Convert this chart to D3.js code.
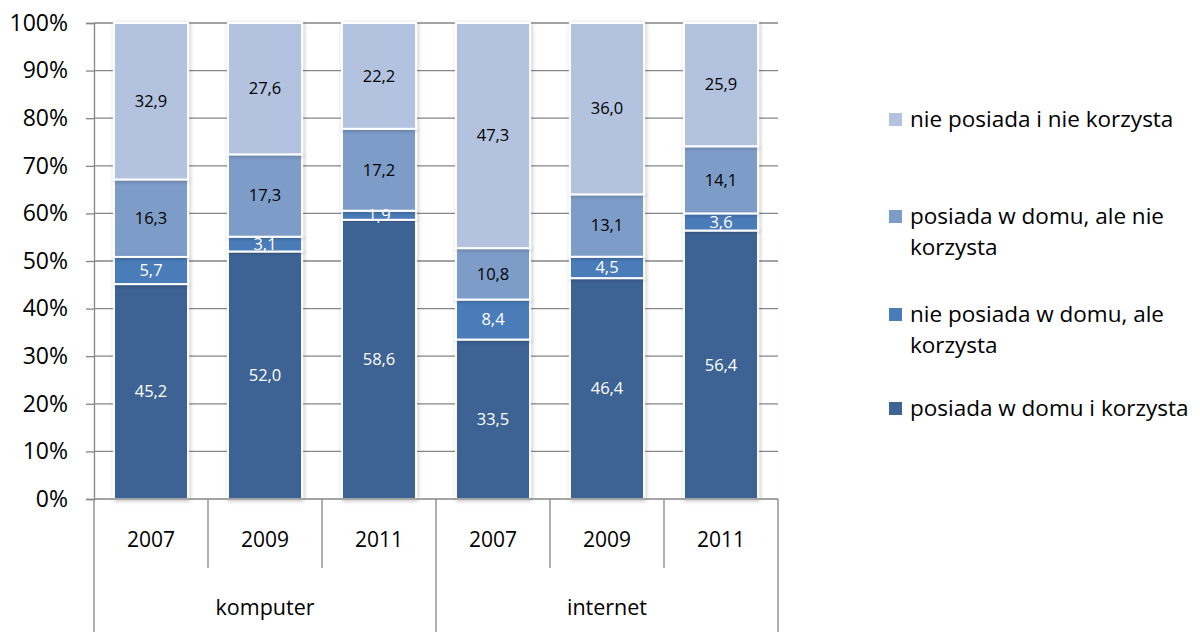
<!DOCTYPE html>
<html><head><meta charset="utf-8">
<script src="https://cdn.jsdelivr.net/npm/d3@7"></script>
<style>body{margin:0;background:#fff}svg{display:block}text{font-family:"Open Sans","Noto Sans",sans-serif}</style>
</head><body>
<svg id="c" width="1200" height="632"></svg>
<script>
const groups = ["komputer", "internet"];
const years = ["2007", "2009", "2011"];
const seriesNames = ["posiada w domu i korzysta", "nie posiada w domu, ale korzysta", "posiada w domu, ale nie korzysta", "nie posiada i nie korzysta"];
const s1 = [45.2, 52.0, 58.6, 33.5, 46.4, 56.4];
const s2 = [5.7, 3.1, 1.9, 8.4, 4.5, 3.6];
const s3 = [16.3, 17.3, 17.2, 10.8, 13.1, 14.1];
const s4 = [32.9, 27.6, 22.2, 47.3, 36.0, 25.9];
const colors = ["#3C6494", "#4A7CB9", "#7E9CC8", "#B3C3DF"];
const labelColors = ["#fff", "#fff", "#000", "#000"];
const yTicks = [0,10,20,30,40,50,60,70,80,90,100];
const legendLines = [["nie posiada i nie korzysta"], ["posiada w domu, ale nie", "korzysta"], ["nie posiada w domu, ale", "korzysta"], ["posiada w domu i korzysta"]];

const FONT = "'Open Sans', 'Noto Sans', sans-serif";
const svg = d3.select("#c");
const L = 94, R = 778, T = 23, B = 499;
const cats = [];
groups.forEach(g => years.forEach(y => cats.push(g + "|" + y)));
const x = d3.scaleBand().domain(cats).range([L, R]).paddingInner(0.35).paddingOuter(0.175);
const y = d3.scaleLinear().domain([0, 100]).range([B, T]);
const series = [s1, s2, s3, s4];

// gridlines
svg.append("g").selectAll("line").data(yTicks.filter(d => d > 0)).join("line")
  .attr("x1", L).attr("x2", R).attr("y1", d => y(d)).attr("y2", d => y(d))
  .attr("stroke", "#868686").attr("stroke-width", 1.3);

// y axis
const ya = svg.append("g").attr("transform", `translate(${L},0)`)
  .call(d3.axisLeft(y).tickValues(yTicks).tickFormat(d => d + "%").tickSize(8).tickPadding(18));
ya.select(".domain").attr("stroke", "#868686").attr("stroke-width", 1.3);
ya.selectAll(".tick line").attr("stroke", "#868686").attr("stroke-width", 1.3);
ya.selectAll("text").attr("font-size", 23).attr("fill", "#000").attr("font-family", FONT);

// shadow filter
const defs = svg.append("defs");
const f = defs.append("filter").attr("id", "sh").attr("x", "-10%").attr("y", "-10%").attr("width", "130%").attr("height", "130%");
f.append("feGaussianBlur").attr("in", "SourceAlpha").attr("stdDeviation", 2);
f.append("feOffset").attr("dx", 1).attr("dy", 1).attr("result", "b");
f.append("feComponentTransfer").append("feFuncA").attr("type", "linear").attr("slope", 0.25);
const m = f.append("feMerge"); m.append("feMergeNode"); m.append("feMergeNode").attr("in", "SourceGraphic");

// stacked data (100% normalized)
const rows = cats.map((c, i) => {
  const tot = series.reduce((a, s) => a + s[i], 0);
  let acc = 0;
  return series.map((s, k) => { const v0 = acc; acc += s[i] / tot * 100; return { c, k, v: s[i], y0: v0, y1: acc }; });
}).flat();

const bars = svg.append("g");
bars.selectAll("rect").data(rows).join("rect")
  .attr("x", d => x(d.c)).attr("width", x.bandwidth())
  .attr("y", d => y(d.y1)).attr("height", d => y(d.y0) - y(d.y1))
  .attr("fill", d => colors[d.k]).attr("stroke", "#fff").attr("stroke-width", 2)
  .attr("filter", "url(#sh)");
bars.selectAll("text").data(rows).join("text")
  .attr("x", d => x(d.c) + x.bandwidth() / 2).attr("y", d => (y(d.y0) + y(d.y1)) / 2)
  .attr("dy", "0.35em").attr("text-anchor", "middle").attr("font-size", 16.5)
  .attr("fill", d => labelColors[d.k])
  .text(d => d3.format(".1f")(d.v).replace(".", ","));

// category axis
const ax = svg.append("g");
ax.append("line").attr("x1", L).attr("x2", R).attr("y1", B).attr("y2", B).attr("stroke", "#868686").attr("stroke-width", 1.3);
const step = x.step();
cats.forEach((c, i) => {
  const xl = L + i * step;
  ax.append("line").attr("x1", xl).attr("x2", xl).attr("y1", B).attr("y2", i % 3 === 0 ? 632 : 568).attr("stroke", "#868686").attr("stroke-width", 1.3);
  ax.append("text").attr("x", x(c) + x.bandwidth() / 2).attr("y", 547).attr("text-anchor", "middle").attr("font-size", 21).text(c.split("|")[1]);
});
ax.append("line").attr("x1", R).attr("x2", R).attr("y1", B).attr("y2", 632).attr("stroke", "#868686").attr("stroke-width", 1.3);
groups.forEach((g, gi) => {
  ax.append("text").attr("x", L + (gi * 3 + 1.5) * step).attr("y", 615).attr("text-anchor", "middle").attr("font-size", 21.5).text(g);
});

// legend
const legY = [119, 216, 314, 408];
const lg = svg.append("g");
legendLines.forEach((lines, i) => {
  const k = 3 - i;
  lg.append("rect").attr("x", 889).attr("y", legY[i] - 6).attr("width", 13).attr("height", 13).attr("fill", colors[k]);
  lines.forEach((t, j) => {
    lg.append("text").attr("x", 910).attr("y", legY[i] + j * 31).attr("dy", "0.35em").attr("font-size", 22.5).text(t);
  });
});
</script>
</body></html>
